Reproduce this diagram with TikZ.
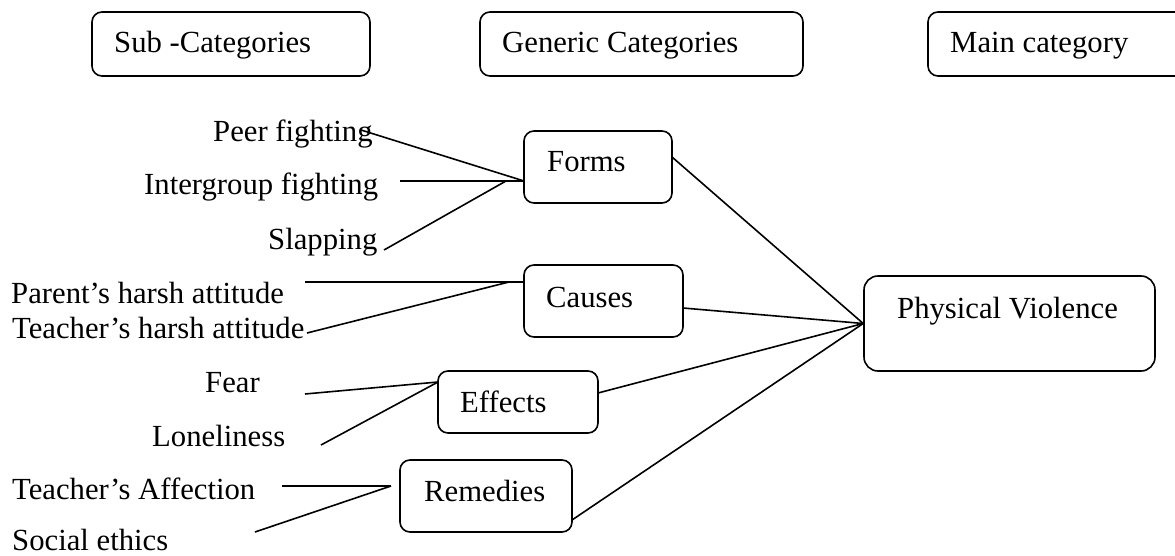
\documentclass[tikz,border=0pt]{standalone}
\usepackage{fontspec}
\setmainfont{Liberation Serif}
\begin{document}
\begin{tikzpicture}[x=1pt,y=-1pt,
  box/.style={draw, line width=1.6pt, rounded corners=10pt, inner sep=0pt},
  lbl/.style={anchor=base west, inner sep=0pt, font=\fontsize{30.7}{36}\selectfont},
  link/.style={line width=1.6pt}]
\useasboundingbox (0,0) rectangle (1175,556);
% header boxes
\node[box, minimum width=278pt, minimum height=64pt] (sub) at (231,44) {};
\node[box, minimum width=323pt, minimum height=64pt] (gen) at (641.5,44) {};
\node[box, minimum width=257pt, minimum height=64pt] (mainc) at (1056.5,44) {};
\node[lbl] (subt) at (114,53) {Sub -Categories};
\node[lbl] (gent) at (502,53) {Generic Categories};
\node[lbl] (maint) at (950,53) {Main category};
% generic boxes
\node[box, minimum width=148pt, minimum height=72pt] (forms) at (598,167) {};
\node[box, minimum width=159pt, minimum height=72pt] (causes) at (603.5,301) {};
\node[box, minimum width=160pt, minimum height=62pt] (effects) at (518,402) {};
\node[box, minimum width=172pt, minimum height=72pt] (remedies) at (486,496) {};
\node[box, minimum width=291pt, minimum height=95pt, rounded corners=14pt] (pv) at (1009.5,323.5) {};
\node[lbl] (formst) at (547,172) {Forms};
\node[lbl] (causest) at (546,307) {Causes};
\node[lbl] (effectst) at (460,412) {Effects};
\node[lbl] (remediest) at (424,501) {Remedies};
\node[lbl] (pvt) at (897,318) {Physical Violence};
% sub-category labels
\node[lbl] (peer) at (213,142) {Peer fighting};
\node[lbl] (inter) at (144,195) {Intergroup fighting};
\node[lbl] (slap) at (268,249) {Slapping};
\node[lbl] (parent) at (11,303) {Parent’s harsh attitude};
\node[lbl] (teacher) at (12,338) {Teacher’s harsh attitude};
\node[lbl] (fear) at (205,392) {Fear};
\node[lbl] (lonely) at (152,446) {Loneliness};
\node[lbl] (affect) at (12,499) {Teacher’s Affection};
\node[lbl] (social) at (12,550) {Social ethics};
% connector points
\coordinate (fj) at (524,181);
\coordinate (fj2) at (506,181);
\coordinate (cj) at (524,282);
\coordinate (cj2) at (509,282);
\coordinate (ej) at (438,382);
\coordinate (rj) at (391,486);
\coordinate (peerE) at (361,130);
\coordinate (interE) at (400,181);
\coordinate (slapE) at (384,250);
\coordinate (parentE) at (305,282);
\coordinate (teacherE) at (307,333);
\coordinate (fearE) at (305,394);
\coordinate (lonelyE) at (321,445);
\coordinate (affectE) at (282,486);
\coordinate (socialE) at (255,532);
\coordinate (formsE) at (672,157);
\coordinate (causesE) at (683,308);
\coordinate (effectsE) at (598,393);
\coordinate (remediesE) at (572,520);
% connectors
\draw[link] (peerE) -- (fj);
\draw[link] (interE) -- (fj);
\draw[link] (slapE) -- (fj2);
\draw[link] (parentE) -- (cj);
\draw[link] (teacherE) -- (cj2);
\draw[link] (fearE) -- (ej);
\draw[link] (lonelyE) -- (ej);
\draw[link] (affectE) -- (rj);
\draw[link] (socialE) -- (rj);
\draw[link] (formsE) -- (pv.west);
\draw[link] (causesE) -- (pv.west);
\draw[link] (effectsE) -- (pv.west);
\draw[link] (remediesE) -- (pv.west);
\end{tikzpicture}
\end{document}
